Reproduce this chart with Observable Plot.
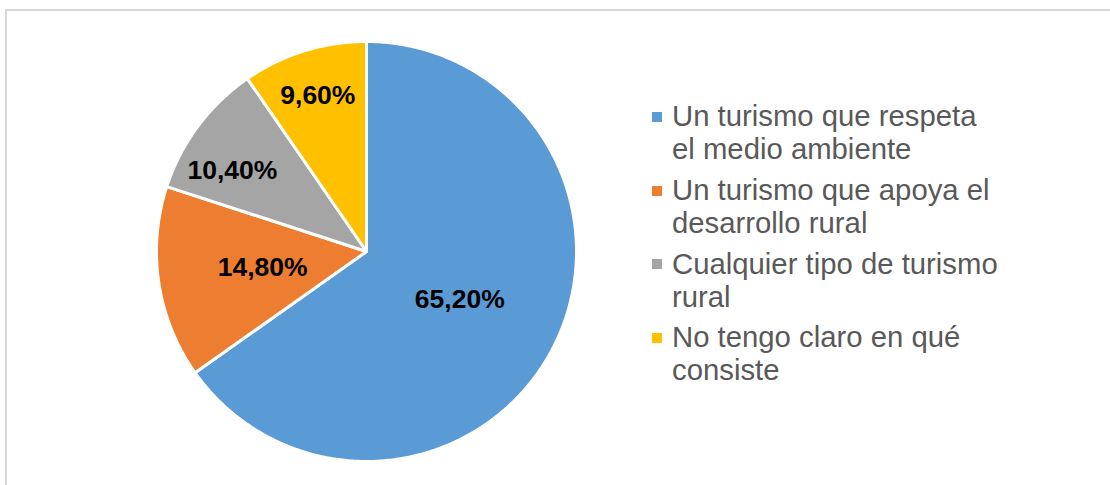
<!DOCTYPE html>
<html>
<head>
<meta charset="utf-8">
<script src="https://cdn.jsdelivr.net/npm/d3@7"></script>
<script src="https://cdn.jsdelivr.net/npm/@observablehq/plot@0.6"></script>
<style>
  html, body { margin: 0; padding: 0; background: #fff; overflow: hidden; }
  #wrap { position: relative; width: 1110px; height: 485px; overflow: hidden; }
  #frame { position: absolute; left: 5px; top: 9px; width: 1300px; height: 700px; border: 2px solid #d9d9d9; box-sizing: border-box; }
  #chart { position: absolute; left: 0; top: 0; }
  #legend { position: absolute; left: 652px; top: 99.3px; display: flex; flex-direction: column; gap: 7.7px;
            font-family: "Liberation Sans", Arial, sans-serif; font-size: 29.3px; line-height: 33px; color: #595959; }
  .item { position: relative; padding-left: 20px; width: 360px; white-space: nowrap; }
  .sw { position: absolute; left: 0; top: 12.7px; width: 10px; height: 10px; }
</style>
</head>
<body>
<div id="wrap">
  <div id="frame"></div>
  <div id="chart"></div>
  <div id="legend"></div>
</div>
<script>
const categories = [
  "Un turismo que respeta el medio ambiente",
  "Un turismo que apoya el desarrollo rural",
  "Cualquier tipo de turismo rural",
  "No tengo claro en qué consiste"
];
const legendLines = [
  ["Un turismo que respeta", "el medio ambiente"],
  ["Un turismo que apoya el", "desarrollo rural"],
  ["Cualquier tipo de turismo", "rural"],
  ["No tengo claro en qué", "consiste"]
];
const values = [65.2, 14.8, 10.4, 9.6];
const labels = ["65,20%", "14,80%", "10,40%", "9,60%"];
const colors = ["#5B9BD5", "#ED7D31", "#A5A5A5", "#FFC000"];

const total = d3.sum(values);
const arcs = d3.pie().sort(null).value(d => d)(values);

// polygon points of each slice (angle clockwise from 12 o'clock)
const slicePts = [];
arcs.forEach((a, i) => {
  const cat = categories[i];
  slicePts.push({cat, x: 0, y: 0});
  const n = Math.max(2, Math.ceil((a.endAngle - a.startAngle) / 0.01));
  for (let k = 0; k <= n; k++) {
    const t = a.startAngle + (a.endAngle - a.startAngle) * k / n;
    slicePts.push({cat, x: Math.sin(t), y: Math.cos(t)});
  }
  slicePts.push({cat, x: 0, y: 0});
});

// label anchor (best-fit style): large slices at half radius, small ones nearer the rim;
// a small slice on the left side is nudged upward so its label clears the neighbour
const labelPts = arcs.map((a, i) => {
  const small = values[i] / total <= 0.12;
  const mid = (a.startAngle + a.endAngle) / 2;
  const nudge = small && mid < 1.85 * Math.PI ? -0.1 : 0;
  const r = small ? (nudge ? 0.745 : 0.78) : 0.5;
  return {label: labels[i], x: r * Math.sin(mid + nudge), y: r * Math.cos(mid + nudge)};
});

const plot = Plot.plot({
  width: 1110,
  height: 485,
  marginLeft: 156,
  marginRight: 534,
  marginTop: 41,
  marginBottom: 24,
  x: {domain: [-1, 1], axis: null},
  y: {domain: [-1, 1], axis: null},
  color: {domain: categories, range: colors},
  style: {background: "transparent", overflow: "visible"},
  marks: [
    Plot.line(slicePts, {x: "x", y: "y", z: "cat", fill: "cat", stroke: "white", strokeWidth: 3, strokeLinejoin: "round", curve: "linear"}),
    Plot.text(labelPts, {x: "x", y: "y", text: "label", fill: "#000", fontSize: 26.5, fontWeight: "bold",
      fontFamily: "Liberation Sans, Arial, sans-serif"})
  ]
});
document.getElementById("chart").appendChild(plot);

const leg = document.getElementById("legend");
legendLines.forEach((lines, i) => {
  const it = document.createElement("div");
  it.className = "item";
  const sw = document.createElement("span");
  sw.className = "sw";
  sw.style.background = colors[i];
  it.appendChild(sw);
  lines.forEach(l => {
    const d = document.createElement("div");
    d.textContent = l;
    it.appendChild(d);
  });
  leg.appendChild(it);
});
</script>
</body>
</html>
